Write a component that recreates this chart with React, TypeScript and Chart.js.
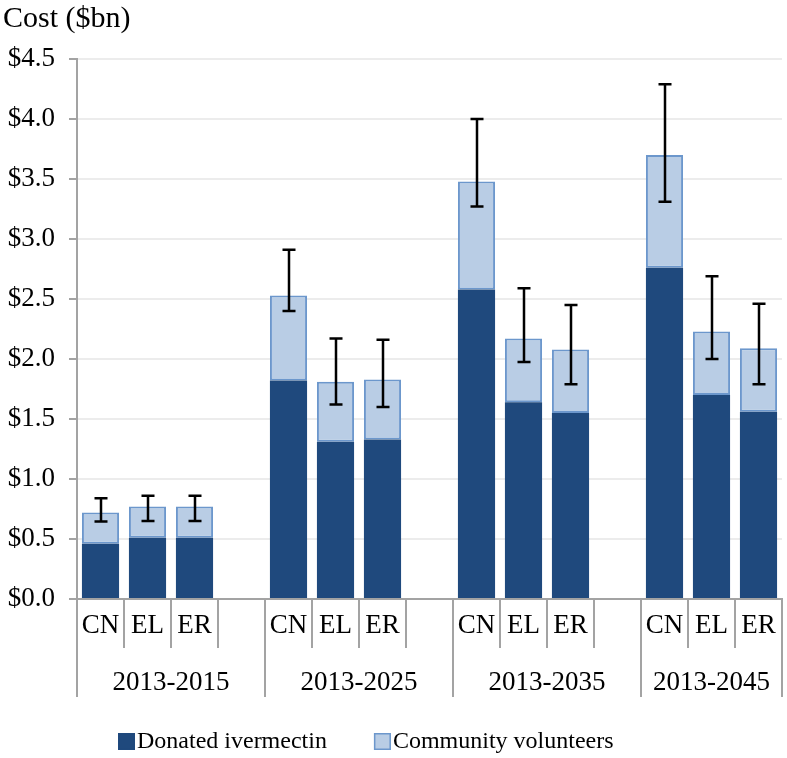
import React, { useEffect, useRef } from 'react';
import { Chart, registerables } from 'chart.js';

Chart.register(...registerables);

const categories = ['CN', 'EL', 'ER', '', 'CN', 'EL', 'ER', '', 'CN', 'EL', 'ER', '', 'CN', 'EL', 'ER'];
const periods = ['2013-2015', '2013-2025', '2013-2035', '2013-2045'];
const donated = [0.46, 0.51, 0.51, null, 1.82, 1.31, 1.33, null, 2.58, 1.64, 1.55, null, 2.76, 1.7, 1.56];
const volunteers = [0.26, 0.26, 0.26, null, 0.71, 0.5, 0.5, null, 0.9, 0.53, 0.53, null, 0.94, 0.53, 0.53];
const errLow = [0.645, 0.65, 0.65, null, 2.4, 1.62, 1.6, null, 3.27, 1.975, 1.79, null, 3.31, 2.0, 1.79];
const errHigh = [0.84, 0.86, 0.86, null, 2.91, 2.17, 2.16, null, 4.0, 2.59, 2.45, null, 4.29, 2.69, 2.46];
const seriesNames = ['Donated ivermectin', 'Community volunteers'];
const yTitle = 'Cost ($bn)';

const FONT = "'Liberation Serif', 'Times New Roman', serif";
const DARK = '#1F497D';
const LIGHT = '#B9CDE5';
const LIGHT_BORDER = '#6C97CC';
const AXIS = '#A3A3A3';

const groupAxisPlugin = {
  id: 'groupAxis',
  afterDatasetsDraw(chart: any) {
    const ctx = chart.ctx;
    const y = chart.scales.y;
    const meta = chart.getDatasetMeta(1);
    ctx.save();
    ctx.strokeStyle = '#000';
    ctx.lineWidth = 2.5;
    meta.data.forEach((bar: any, i: number) => {
      const hi = errHigh[i];
      const lo = errLow[i];
      if (hi == null || lo == null) return;
      const cx = Math.round(bar.x);
      const yh = y.getPixelForValue(hi);
      const yl = y.getPixelForValue(lo);
      ctx.beginPath();
      ctx.moveTo(cx, yh);
      ctx.lineTo(cx, yl);
      ctx.moveTo(cx - 6.5, yh);
      ctx.lineTo(cx + 6.5, yh);
      ctx.moveTo(cx - 6.5, yl);
      ctx.lineTo(cx + 6.5, yl);
      ctx.stroke();
    });
    ctx.restore();
  },
  afterDraw(chart: any) {
    const ctx = chart.ctx;
    const x = chart.scales.x;
    const area = chart.chartArea;
    const n = categories.length;
    const w = (x.right - x.left) / n;
    ctx.save();
    // separators
    ctx.strokeStyle = AXIS;
    ctx.lineWidth = 2;
    for (let i = 0; i <= n; i++) {
      const bx = Math.round(x.left + i * w);
      const long = i % 4 === 0 || i === n;
      ctx.beginPath();
      ctx.moveTo(bx, area.bottom);
      ctx.lineTo(bx, area.bottom + (long ? 98 : 49));
      ctx.stroke();
    }
    // category labels
    ctx.fillStyle = '#000';
    ctx.font = `27px ${FONT}`;
    ctx.textAlign = 'center';
    ctx.textBaseline = 'alphabetic';
    categories.forEach((c, i) => {
      if (!c) return;
      ctx.fillText(c, x.getPixelForValue(i), area.bottom + 34);
    });
    // period labels
    periods.forEach((p, g) => {
      const s = x.left + g * 4 * w;
      const e = Math.min(x.right, x.left + (g * 4 + 4) * w);
      ctx.fillText(p, (s + e) / 2, area.bottom + 91);
    });
    // title
    ctx.textAlign = 'left';
    ctx.font = `30px ${FONT}`;
    ctx.fillText(yTitle, 3, 27);
    // legend
    ctx.font = `24px ${FONT}`;
    const fills = [DARK, LIGHT];
    const strokes = [DARK, LIGHT_BORDER];
    let lx = 118;
    seriesNames.forEach((name, i) => {
      ctx.fillStyle = fills[i];
      ctx.fillRect(lx, 733, 17, 17);
      ctx.strokeStyle = strokes[i];
      ctx.lineWidth = 1.5;
      ctx.strokeRect(lx + 0.75, 733.75, 15.5, 15.5);
      ctx.fillStyle = '#000';
      ctx.fillText(name, lx + 19, 748);
      lx += 19 + ctx.measureText(name).width + 47;
    });
    ctx.restore();
  },
};

export default function App() {
  const ref = useRef<HTMLCanvasElement | null>(null);
  useEffect(() => {
    document.body.style.margin = '0';
    const canvas = ref.current;
    if (!canvas) return;
    const chart = new Chart(canvas, {
      type: 'bar',
      data: {
        labels: categories,
        datasets: [
          {
            label: seriesNames[0],
            data: donated as any,
            backgroundColor: DARK,
            borderColor: DARK,
            borderWidth: 0,
            barPercentage: 0.79,
            categoryPercentage: 1,
          },
          {
            label: seriesNames[1],
            data: volunteers as any,
            backgroundColor: LIGHT,
            borderColor: LIGHT_BORDER,
            borderWidth: 2,
            borderSkipped: false,
            barPercentage: 0.79,
            categoryPercentage: 1,
          },
        ],
      },
      options: {
        animation: false,
        responsive: false,
        layout: { padding: { top: 59, right: 5, left: 0, bottom: 0 } },
        plugins: {
          legend: { display: false },
          title: { display: false },
          tooltip: { enabled: false },
        },
        scales: {
          x: {
            stacked: true,
            grid: { display: false },
            ticks: { display: false },
            border: { display: true, color: AXIS, width: 2 },
            afterFit: (s: any) => {
              s.height = 159;
            },
          },
          y: {
            stacked: true,
            min: 0,
            max: 4.5,
            ticks: {
              stepSize: 0.5,
              color: '#000',
              font: { family: FONT, size: 27 },
              padding: 14,
              callback: (v: any) => '$' + Number(v).toFixed(1),
            },
            grid: { color: '#ECECEC', lineWidth: 2, tickColor: AXIS, tickLength: 8 },
            border: { display: true, color: AXIS, width: 2 },
            afterFit: (s: any) => {
              s.width = 77;
            },
          },
        },
      },
      plugins: [groupAxisPlugin],
    });
    return () => chart.destroy();
  }, []);
  return <canvas ref={ref} width={787} height={758} style={{ display: 'block' }} />;
}
